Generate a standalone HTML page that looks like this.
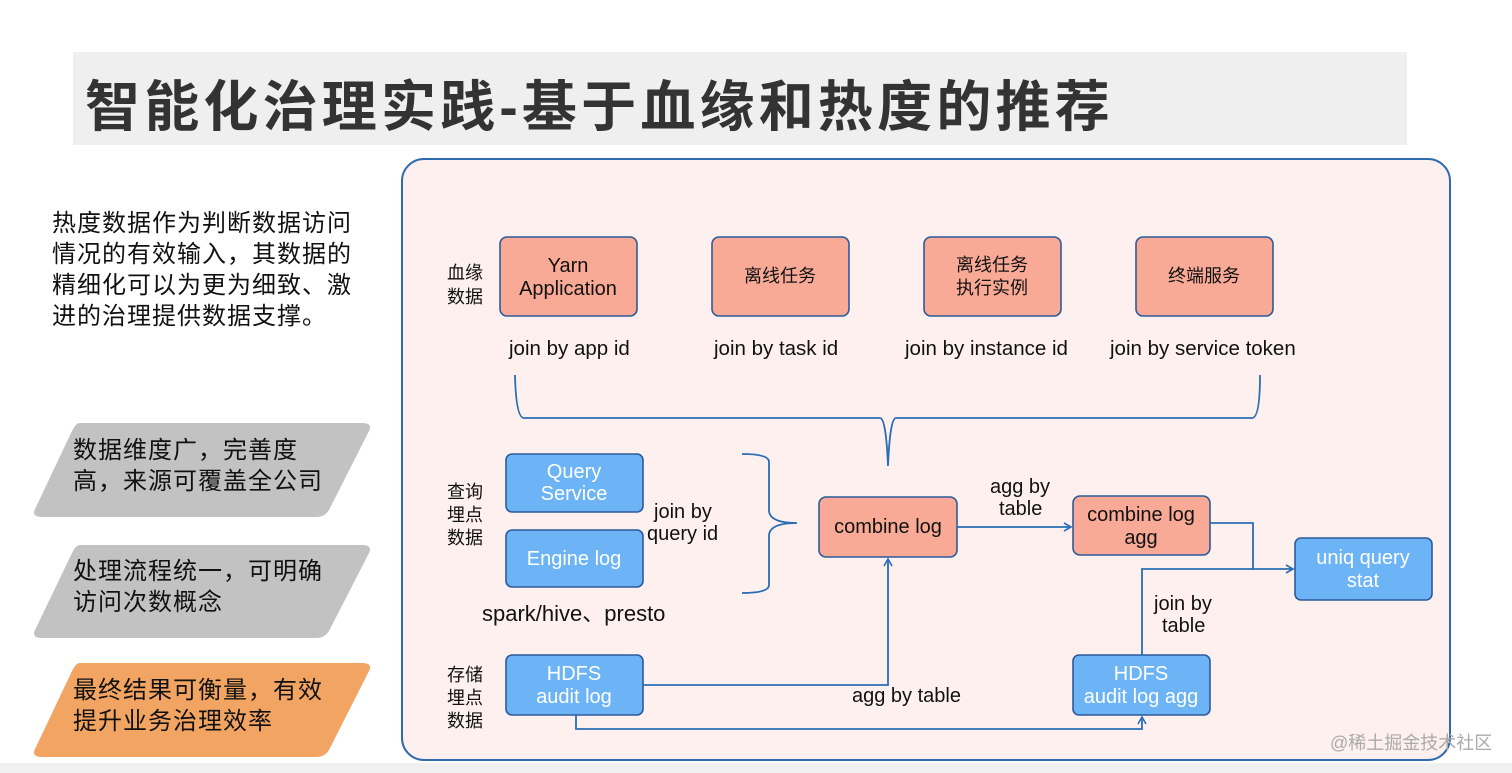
<!DOCTYPE html>
<html><head><meta charset="utf-8"><style>
html,body{margin:0;padding:0;background:#fff;width:1512px;height:773px;overflow:hidden}
svg{display:block}
text{font-family:"Liberation Sans","Noto Sans CJK SC",sans-serif}
</style></head><body>
<svg width="1512" height="773" viewBox="0 0 1512 773" xmlns="http://www.w3.org/2000/svg">
<defs><marker id="a" markerWidth="10" markerHeight="10" refX="8" refY="5" orient="auto" markerUnits="userSpaceOnUse"><path d="M1,1 L8,5 L1,9" fill="none" stroke="#2a6db5" stroke-width="1.6"/></marker></defs>
<rect x="0" y="763" width="1512" height="10" fill="#f0f0f0"/>
<rect x="73" y="52" width="1334" height="93" fill="#efefef"/>
<text x="85" y="126" font-size="55" font-weight="bold" letter-spacing="4.2" fill="#333">智能化治理实践-基于血缘和热度的推荐</text>

<g font-size="24" fill="#111" letter-spacing="1">
<text x="52" y="231">热度数据作为判断数据访问</text>
<text x="52" y="262">情况的有效输入，其数据的</text>
<text x="52" y="293">精细化可以为更为细致、激</text>
<text x="52" y="324">进的治理提供数据支撑。</text>
</g>
<g>
<path d="M80,423 L362,423 Q374,423 368,433 L330,508 Q326,517 316,517 L42,517 Q30,517 36,507 L72,431 Q76,423 80,423Z" fill="#c2c2c2"/>
<path d="M80,545 L362,545 Q374,545 368,555 L330,629 Q326,638 316,638 L42,638 Q30,638 36,628 L72,553 Q76,545 80,545Z" fill="#c2c2c2"/>
<path d="M80,663 L362,663 Q374,663 368,673 L330,748 Q326,757 316,757 L42,757 Q30,757 36,747 L72,671 Q76,663 80,663Z" fill="#f2a462"/>
</g>
<g font-size="24" fill="#111" letter-spacing="1">
<text x="73" y="458">数据维度广，完善度</text>
<text x="73" y="489">高，来源可覆盖全公司</text>
<text x="73" y="579">处理流程统一，可明确</text>
<text x="73" y="610">访问次数概念</text>
<text x="73" y="698">最终结果可衡量，有效</text>
<text x="73" y="729">提升业务治理效率</text>
</g>

<rect x="402" y="159" width="1048" height="601" rx="22" fill="#fdf0ee" stroke="#2e6bb0" stroke-width="2"/>

<g fill="#f9aa96" stroke="#2c5a9a" stroke-width="1.6">
<rect x="500" y="237" width="137" height="79" rx="7"/>
<rect x="712" y="237" width="137" height="79" rx="7"/>
<rect x="924" y="237" width="137" height="79" rx="7"/>
<rect x="1136" y="237" width="137" height="79" rx="7"/>
<rect x="819" y="497" width="138" height="60" rx="7"/>
<rect x="1073" y="496" width="137" height="59" rx="7"/>
</g>
<g fill="#6cb4f5" stroke="#2c5a9a" stroke-width="1.6">
<rect x="506" y="454" width="137" height="58" rx="6"/>
<rect x="506" y="530" width="137" height="57" rx="6"/>
<rect x="1295" y="538" width="137" height="62" rx="6"/>
<rect x="506" y="655" width="137" height="60" rx="6"/>
<rect x="1073" y="655" width="137" height="60" rx="6"/>
</g>
<g font-size="20" fill="#111" text-anchor="middle">
<text x="568" y="272">Yarn</text><text x="568" y="295">Application</text>
<text x="780" y="282" font-size="18">离线任务</text>
<text x="992" y="271" font-size="18">离线任务</text><text x="992" y="294" font-size="18">执行实例</text>
<text x="1204" y="282" font-size="18">终端服务</text>
<text x="888" y="533">combine log</text>
<text x="1141" y="521">combine log</text><text x="1141" y="544">agg</text>
</g>
<g font-size="20" fill="#fff" text-anchor="middle">
<text x="574" y="478">Query</text><text x="574" y="500">Service</text>
<text x="574" y="565">Engine log</text>
<text x="1363" y="564">uniq query</text><text x="1363" y="587">stat</text>
<text x="574" y="680">HDFS</text><text x="574" y="703">audit log</text>
<text x="1141" y="680">HDFS</text><text x="1141" y="703">audit log agg</text>
</g>
<g font-size="18" fill="#111">
<text x="447" y="279">血缘</text><text x="447" y="303">数据</text>
<text x="447" y="498">查询</text><text x="447" y="521">埋点</text><text x="447" y="544">数据</text>
<text x="447" y="681">存储</text><text x="447" y="704">埋点</text><text x="447" y="727">数据</text>
</g>
<g font-size="20.5" fill="#111">
<text x="509" y="355">join by app id</text>
<text x="714" y="355">join by task id</text>
<text x="905" y="355">join by instance id</text>
<text x="1110" y="355">join by service token</text>
<text x="654" y="518" font-size="20">join by</text><text x="647" y="540" font-size="20">query id</text>
<text x="482" y="621" font-size="22">spark/hive、presto</text>
<text x="990" y="493" font-size="20">agg by</text><text x="999" y="515" font-size="20">table</text>
<text x="1154" y="610" font-size="20">join by</text><text x="1162" y="632" font-size="20">table</text>
<text x="852" y="702" font-size="20">agg by table</text>
</g>
<g fill="none" stroke="#2a6db5" stroke-width="1.8">
<path d="M515,375 Q516,418 524,418 L880,418 Q886,418 888,466 Q890,418 896,418 L1252,418 Q1260,418 1260,375"/>
<path d="M742,454 Q769,454 769,462 L769,510 Q769,523 797,523 Q769,523 769,536 L769,585 Q769,593 742,593"/>
<path d="M957,527 L1071,527" marker-end="url(#a)"/>
<path d="M1210,523 L1253,523 L1253,569 L1293,569" marker-end="url(#a)"/>
<path d="M1142,655 L1142,569 L1253,569"/>
<path d="M643,685 L888,685 L888,559" marker-end="url(#a)"/>
<path d="M576,715 L576,729 L1142,729 L1142,717" marker-end="url(#a)"/>
</g>
<text x="1330" y="749" font-size="18" fill="#aaa">@稀土掘金技术社区</text>
</svg>
</body></html>
